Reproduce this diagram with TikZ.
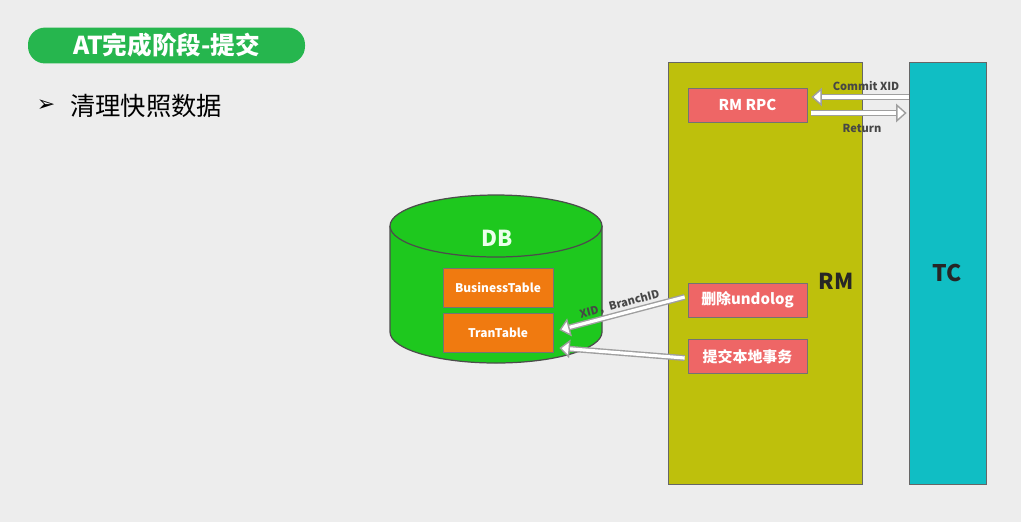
\documentclass[tikz,border=0pt]{standalone}
\usepackage{fontspec}
\setmainfont{Noto Sans CJK SC}
\newfontfamily\symfont{DejaVu Sans}
\usetikzlibrary{arrows.meta}
\definecolor{bggray}{RGB}{237,237,237}
\definecolor{titlegreen}{RGB}{38,182,78}
\definecolor{rmolive}{RGB}{190,192,12}
\definecolor{tccyan}{RGB}{16,190,196}
\definecolor{rpcred}{RGB}{238,102,102}
\definecolor{taborange}{RGB}{240,122,16}
\definecolor{dbgreen}{RGB}{30,200,30}
\definecolor{labelgray}{RGB}{70,70,70}
\begin{document}
\begin{tikzpicture}[x=0.02cm,y=-0.02cm]
\tikzstyle{redbox}=[draw={black!55},fill={rpcred},text={white},font={\bfseries\fontsize{8.5}{10}\selectfont},minimum width=119*0.02cm,minimum height=34*0.02cm,inner sep=0pt]
\tikzstyle{tabbox}=[draw={black!55},fill={taborange},text={white},font={\bfseries\fontsize{6.8}{8}\selectfont},minimum width=110*0.02cm,minimum height=39*0.02cm,inner sep=0pt]
\tikzstyle{hollow}=[draw={gray!75},line width=0.8pt,double={white},double distance=1.8pt,-{Triangle[open,length=6pt,width=10.5pt,fill=white]}]
\tikzstyle{smalllabel}=[text={labelgray},font={\bfseries\fontsize{6.3}{7}\selectfont},inner sep=1pt]
\fill[bggray] (0,0) rectangle (1021,522);
\useasboundingbox (0,0) rectangle (1021,522);
% title
\node[style={fill={titlegreen},rounded corners=17*0.02cm,minimum width=277*0.02cm,minimum height=35*0.02cm,text={white},font={\bfseries\fontsize{14}{16}\selectfont}}] (title) at (166.5, 45.5) {AT完成阶段-提交};
\node[style={font={\symfont\fontsize{12.5}{14}\selectfont},inner sep=0pt}] (bullet) at (46, 106) {➢};
\node[style={anchor=west,inner sep=0pt,font={\fontsize{14.4}{16}\selectfont}}] (bullettext) at (70, 106) {清理快照数据};
% RM and TC
\node[style={draw={black!60},fill={rmolive},minimum width=194*0.02cm,minimum height=422*0.02cm,inner sep=0pt}] (rm) at (765, 273) {};
\node[style={draw={black!60},fill={tccyan},minimum width=77*0.02cm,minimum height=422*0.02cm,inner sep=0pt}] (tc) at (947.5, 273) {};
\node[style={text={black!85},font={\bfseries\fontsize{12.5}{14}\selectfont}}] (rmlabel) at (836, 281) {RM};
\node[style={text={black!85},font={\bfseries\fontsize{13}{15}\selectfont}}] (tclabel) at (947, 273) {TC};
\node[redbox] (rpc) at (747.5, 105) {RM RPC};
\node[redbox] (undo) at (747.5, 300) {删除undolog};
\node[redbox] (commit) at (747.5, 356.5) {提交本地事务};
% DB
\draw[black!70,fill={dbgreen},line width=0.7pt] (390,226) -- (390,332) arc[start angle=180,end angle=0,x radius=106,y radius=31] -- (602,226);
\draw[black!70,fill={dbgreen},line width=0.7pt] (496,226) ellipse[x radius=106,y radius=31];
\node[style={text={white!92!green},font={\bfseries\fontsize{12.5}{14}\selectfont}}] (dblabel) at (497, 238) {DB};
\node[tabbox] (business) at (498, 287.5) {BusinessTable};
\node[tabbox] (tran) at (498, 333) {TranTable};
% arrows
\coordinate (c97) at (0, 97);
\coordinate (c113) at (0, 113);
\draw[hollow] (tc.west |- c97) -- ([xshift=4*0.02cm]rpc.east |- c97);
\draw[hollow] ([xshift=4*0.02cm]rpc.east |- c113) -- ([xshift=-2*0.02cm]tc.west |- c113);
\node[smalllabel] (commitlabel) at (866, 86) {Commit XID};
\node[smalllabel] (returnlabel) at (862, 128) {Return};
\draw[hollow] ([xshift=-3*0.02cm,yshift=3*0.02cm]undo.west) -- node[smalllabel,sloped,above=1pt] {XID，BranchID} ([xshift=6*0.02cm,yshift=3*0.02cm]tran.east);
\draw[hollow] ([xshift=-3*0.02cm,yshift=-1.5*0.02cm]commit.west) -- ([xshift=6*0.02cm,yshift=-15*0.02cm]tran.east);
\end{tikzpicture}
\end{document}
